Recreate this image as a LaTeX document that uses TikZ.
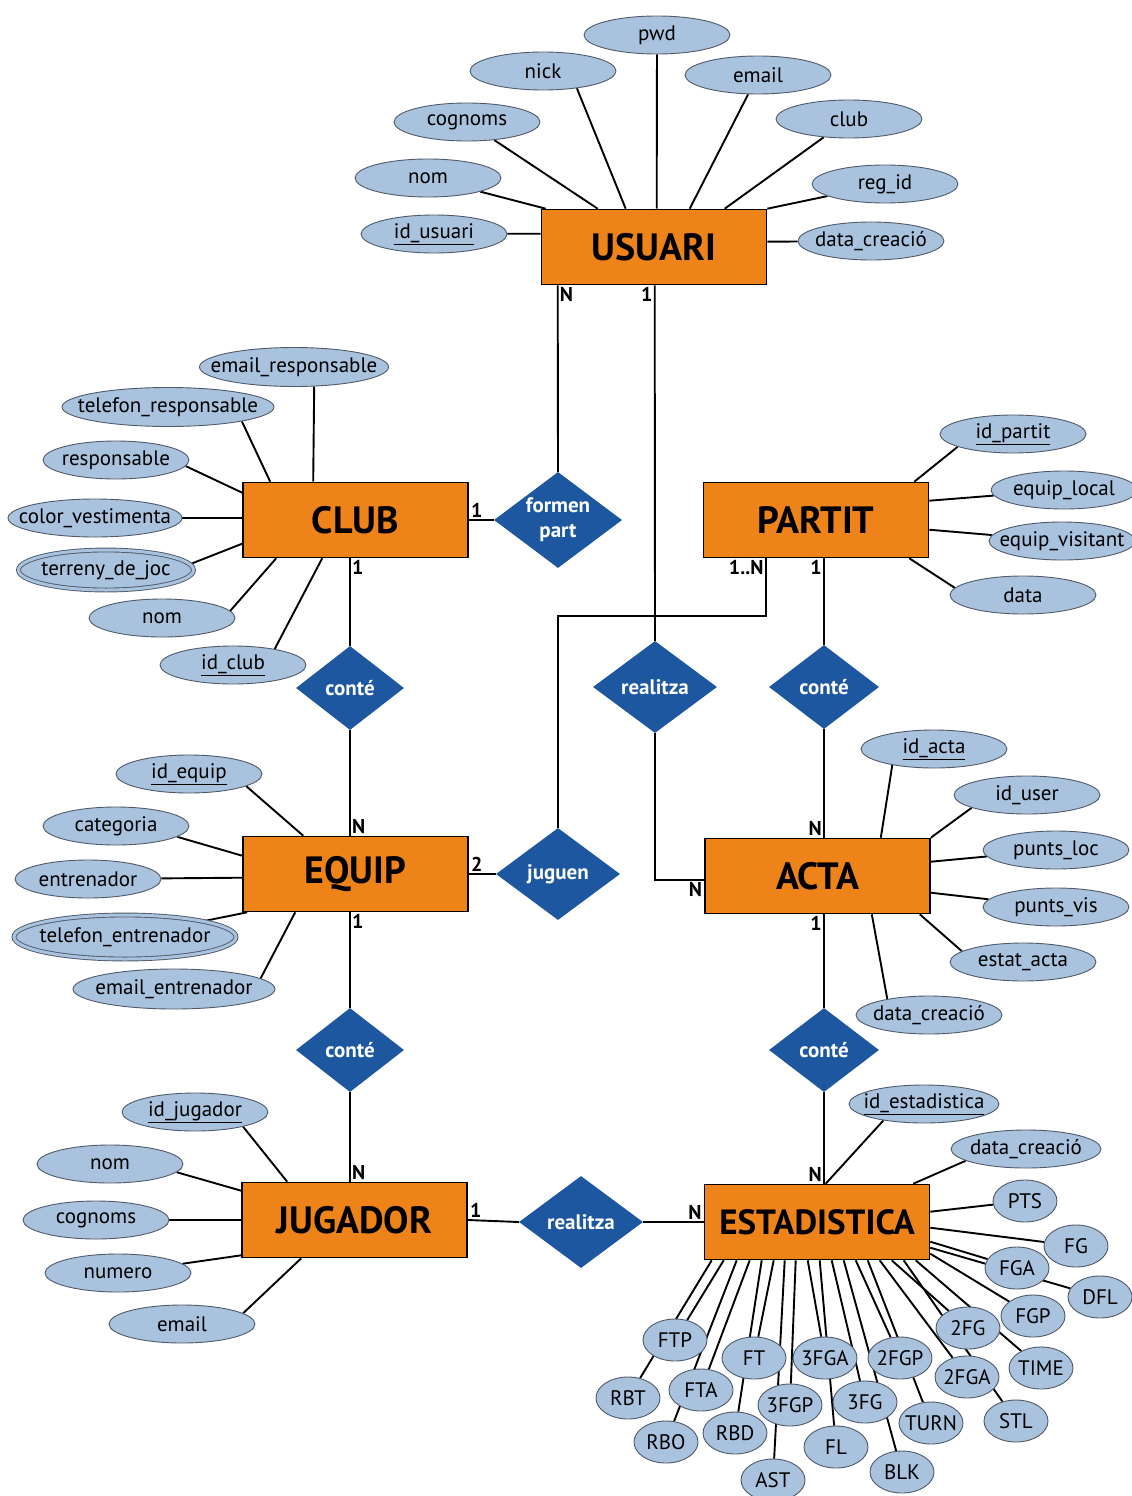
\documentclass[tikz,border=0pt]{standalone}
\usepackage{fontspec}
\setmainfont{PT Sans}
\usepackage{xcolor}
\usepackage{tikz}
\usetikzlibrary{shapes, shapes.geometric, calc, backgrounds}

\definecolor{entorange}{RGB}{238,131,25}
\definecolor{relblue}{RGB}{28,87,160}
\definecolor{attrblue}{RGB}{169,194,222}
\definecolor{attredge}{RGB}{80,90,105}

\tikzstyle{entitat} = [rectangle, draw, line width=1.6pt, fill=entorange,
    minimum width=225pt, minimum height=75pt, inner sep=0pt,
    font=\fontsize{38}{42}\selectfont\bfseries]
\tikzstyle{relacio} = [diamond, fill=relblue, text=white, inner sep=0pt,
    aspect=1.3, align=center, font=\fontsize{21}{25}\selectfont\bfseries]
\tikzstyle{atribut} = [ellipse, draw=attredge, line width=0.9pt, fill=attrblue,
    minimum width=146pt, minimum height=38pt, inner sep=0pt,
    font=\fontsize{21}{24}\selectfont,
    execute at begin node={\hbox to 0pt\bgroup\hss},
    execute at end node={\hss\egroup}]
\tikzstyle{multi} = [atribut, double=attrblue, double distance=3pt]
\tikzstyle{stat} = [atribut, minimum width=64pt, minimum height=42pt]
\tikzstyle{card} = [inner sep=2pt, font=\fontsize{20}{22}\selectfont\bfseries]
\tikzstyle{line} = [draw, line width=1.9pt]

\begin{document}
\begin{tikzpicture}[x=1pt, y=-1pt]
    \useasboundingbox (0,0) rectangle (1132,1496);
    % Entitats
    \node [entitat] (usuari) at (654,247) {USUARI};
    \node [entitat] (club) at (355.5,520) {CLUB};
    \node [entitat] (partit) at (816,520) {PARTIT};
    \node [entitat] (equip) at (355.5,874) {EQUIP};
    \node [entitat] (acta) at (817.5,876) {ACTA};
    \node [entitat] (jugador) at (354.5,1220) {JUGADOR};
    \node [entitat, font=\fontsize{35}{40}\selectfont\bfseries] (estad) at (817,1222) {ESTADISTICA};
    % Relacions
    \node [relacio, minimum width=128pt, minimum height=96pt] (formen) at (558,520) {formen\\part};
    \node [relacio, minimum width=108pt, minimum height=84pt] (conteclub) at (350,688) {conté};
    \node [relacio, minimum width=124pt, minimum height=92pt] (realitza) at (655,687) {realitza};
    \node [relacio, minimum width=110pt, minimum height=84pt] (contepartit) at (824,687) {conté};
    \node [relacio, minimum width=124pt, minimum height=92pt] (juguen) at (558,874) {juguen};
    \node [relacio, minimum width=108pt, minimum height=84pt] (conteequip) at (350,1050) {conté};
    \node [relacio, minimum width=110pt, minimum height=84pt] (conteacta) at (824,1050) {conté};
    \node [relacio, minimum width=124pt, minimum height=92pt] (realitzajug) at (581,1222) {realitza};
    % Cardinalitats
    \node [card, anchor=north west] (kUsuN) at ([xshift=17pt]usuari.south west) {N};
    \node [card, anchor=north east] (kUsu1) at ([xshift=114pt]usuari.south west) {1};
    \node [card, anchor=south west] (kClub1) at (club.east) {1};
    \node [card, anchor=north west] (kClubC) at (club.south -| conteclub) {1};
    \node [card, anchor=south west] (kEquipN) at (equip.north -| conteclub) {N};
    \node [card, anchor=north east] (kPartitN) at ([xshift=63pt]partit.south west) {1..N};
    \node [card, anchor=north east] (kPartit1) at (partit.south -| contepartit) {1};
    \node [card, anchor=south east] (kActaN) at (acta.north -| contepartit) {N};
    \node [card, anchor=north east] (kActaR) at ([yshift=-4pt]acta.west) {N};
    \node [card, anchor=south west] (kEquip2) at (equip.east) {2};
    \node [card, anchor=north west] (kEquip1) at (equip.south -| conteequip) {1};
    \node [card, anchor=south west] (kJugN) at (jugador.north -| conteequip) {N};
    \node [card, anchor=north east] (kActa1) at (acta.south -| conteacta) {1};
    \node [card, anchor=south east] (kEstN) at (estad.north -| conteacta) {N};
    \node [card, anchor=south west] (kJug1) at (jugador.east) {1};
    \node [card, anchor=south east] (kEstR) at (estad.west) {N};
    % Atributs USUARI
    \node [atribut] (u-pwd) at (657,35) {pwd};
    \node [atribut] (u-nick) at (543,71) {nick};
    \node [atribut] (u-email) at (758,75) {email};
    \node [atribut] (u-cognoms) at (467,122) {cognoms};
    \node [atribut] (u-club) at (849,119) {club};
    \node [atribut] (u-nom) at (428,178) {nom};
    \node [atribut] (u-regid) at (885,184) {reg\_id};
    \node [atribut] (u-id) at (434,234) {\underline{id\_usuari}};
    \node [atribut] (u-data) at (871,241) {data\_creació};
    % Atributs CLUB
    \node [atribut, minimum width=189pt, minimum height=39pt] (c-emailresp) at (294,367) {email\_responsable};
    \node [atribut, minimum width=212pt, minimum height=39pt] (c-telresp) at (168,407) {telefon\_responsable};
    \node [atribut] (c-resp) at (116,460) {responsable};
    \node [atribut, minimum width=174pt] (c-color) at (95,518) {color\_vestimenta};
    \node [multi, minimum width=175pt, minimum height=40pt] (c-terreny) at (106,570) {terreny\_de\_joc};
    \node [atribut] (c-nom) at (162,618) {nom};
    \node [atribut] (c-id) at (233,665) {\underline{id\_club}};
    % Atributs PARTIT
    \node [atribut] (p-id) at (1013,434) {\underline{id\_partit}};
    \node [atribut] (p-local) at (1064,490) {equip\_local};
    \node [atribut] (p-visit) at (1062,541) {equip\_visitant};
    \node [atribut] (p-data) at (1023,595) {data};
    % Atributs ACTA
    \node [atribut] (a-id) at (934,749) {\underline{id\_acta}};
    \node [atribut] (a-user) at (1027,795) {id\_user};
    \node [atribut] (a-loc) at (1056,850) {punts\_loc};
    \node [atribut] (a-vis) at (1056,907) {punts\_vis};
    \node [atribut] (a-estat) at (1023,962) {estat\_acta};
    \node [atribut] (a-data) at (929,1015) {data\_creació};
    % Atributs EQUIP
    \node [atribut] (e-id) at (189,774) {\underline{id\_equip}};
    \node [atribut] (e-cat) at (116,826) {categoria};
    \node [atribut] (e-entr) at (88,879) {entrenador};
    \node [multi, minimum width=222pt, minimum height=44pt] (e-tel) at (125,937) {telefon\_entrenador};
    \node [atribut, minimum width=202pt, minimum height=40pt] (e-email) at (174,989) {email\_entrenador};
    % Atributs JUGADOR
    \node [atribut] (j-id) at (195,1112) {\underline{id\_jugador}};
    \node [atribut] (j-nom) at (110,1164) {nom};
    \node [atribut] (j-cognoms) at (96,1220) {cognoms};
    \node [atribut] (j-num) at (118,1273) {numero};
    \node [atribut] (j-email) at (182,1324) {email};
    % Atributs ESTADISTICA
    \node [atribut, minimum width=150pt] (s-id) at (924,1104) {\underline{id\_estadistica}};
    \node [atribut, minimum width=150pt] (s-data) at (1026,1149) {data\_creació};
    \node [stat] (s-PTS) at (1025,1201) {PTS};
    \node [stat] (s-FG) at (1076,1246) {FG};
    \node [stat] (s-FGA) at (1017,1268) {FGA};
    \node [stat] (s-DFL) at (1100,1297) {DFL};
    \node [stat] (s-FGP) at (1033,1316) {FGP};
    \node [stat] (s-2FG) at (968,1328) {2FG};
    \node [stat] (s-TIME) at (1041,1368) {TIME};
    \node [stat] (s-2FGA) at (967,1377) {2FGA};
    \node [stat] (s-STL) at (1016,1421) {STL};
    \node [stat] (s-2FGP) at (900,1358) {2FGP};
    \node [stat] (s-TURN) at (931,1423) {TURN};
    \node [stat] (s-3FG) at (865,1402) {3FG};
    \node [stat] (s-BLK) at (902,1472) {BLK};
    \node [stat] (s-3FGA) at (825,1358) {3FGA};
    \node [stat] (s-FL) at (836,1447) {FL};
    \node [stat] (s-3FGP) at (790,1405) {3FGP};
    \node [stat] (s-AST) at (773,1480) {AST};
    \node [stat] (s-FT) at (754,1358) {FT};
    \node [stat] (s-RBD) at (735,1433) {RBD};
    \node [stat] (s-FTA) at (701,1390) {FTA};
    \node [stat] (s-RBO) at (666,1442) {RBO};
    \node [stat] (s-FTP) at (675,1340) {FTP};
    \node [stat] (s-RBT) at (628,1398) {RBT};

    \begin{scope}[on background layer]
    % Edges relacions
    \path [line] ([xshift=17pt]usuari.south west) -- (formen.north);
    \path [line] ([xshift=114pt]usuari.south west) -- (realitza.north);
    \path [line] (club.east) -- (formen.west);
    \path [line] (club.south -| conteclub) -- (conteclub.north);
    \path [line] (conteclub.south) -- (equip.north -| conteclub);
    \path [line] ([xshift=63pt]partit.south west) -- ++(0,58) -| (juguen.north);
    \path [line] (partit.south -| contepartit) -- (contepartit.north);
    \path [line] (contepartit.south) -- (acta.north -| contepartit);
    \path [line] (realitza.south) |- ([yshift=-4pt]acta.west);
    \path [line] (equip.east) -- (juguen.west);
    \path [line] (equip.south -| conteequip) -- (conteequip.north);
    \path [line] (conteequip.south) -- (jugador.north -| conteequip);
    \path [line] (acta.south -| conteacta) -- (conteacta.north);
    \path [line] (conteacta.south) -- (estad.north -| conteacta);
    \path [line] (jugador.east) -- (realitzajug.west);
    \path [line] (realitzajug.east) -- (estad.west);
    % Edges USUARI
    \path [line] (u-pwd) -- ([xshift=116pt]usuari.north west);
    \path [line] (u-nick.-27) -- ([xshift=85pt]usuari.north west);
    \path [line] (u-email) -- ([xshift=149pt]usuari.north west);
    \path [line] (u-cognoms) -- ([xshift=57pt]usuari.north west);
    \path [line] (u-club) -- ([xshift=184pt]usuari.north west);
    \path [line] (u-nom) -- ([xshift=5pt]usuari.north west);
    \path [line] (u-regid) -- (usuari.north east);
    \path [line] (u-id) -- ([yshift=-25pt]usuari.north west);
    \path [line] (u-data) -- ([yshift=-33pt]usuari.north east);
    % Edges CLUB
    \path [line] (c-emailresp.-44) -- ([xshift=71pt]club.north west);
    \path [line] (c-telresp.-11) -- ([xshift=28pt]club.north west);
    \path [line] (c-resp.-5) -- ([yshift=-11pt]club.north west);
    \path [line] (c-color) -- (club.west |- c-color);
    \path [line] (c-terreny.4) -- ([yshift=-62pt]club.north west);
    \path [line] (c-nom.6) -- ([xshift=34pt]club.south west);
    \path [line] (c-id.21) -- ([xshift=80pt]club.south west);
    % Edges PARTIT
    \path [line] (p-id.-167) -- ([xshift=-15pt]partit.north east);
    \path [line] (p-local) -- ([yshift=-19pt]partit.north east);
    \path [line] (p-visit) -- ([yshift=-48pt]partit.north east);
    \path [line] (p-data.174) -- ([xshift=-20pt]partit.south east);
    % Edges ACTA
    \path [line] (a-id.-159) -- ([xshift=-50pt]acta.north east);
    \path [line] (a-user.-167) -- (acta.north east);
    \path [line] (a-loc) -- ([yshift=-24pt]acta.north east);
    \path [line] (a-vis) -- ([yshift=-55pt]acta.north east);
    \path [line] (a-estat.170) -- ([xshift=-11pt]acta.south east);
    \path [line] (a-data.159) -- ([xshift=-59pt]acta.south east);
    % Edges EQUIP
    \path [line] (e-id.-12) -- ([xshift=61pt]equip.north west);
    \path [line] (e-cat.-10) -- ([yshift=-20pt]equip.north west);
    \path [line] (e-entr) -- ([yshift=-42pt]equip.north west);
    \path [line] (e-tel) -- ([xshift=5pt]equip.south west);
    \path [line] (e-email.7) -- ([xshift=53pt]equip.south west);
    % Edges JUGADOR
    \path [line] (j-id.-17) -- ([xshift=46pt]jugador.north west);
    \path [line] (j-nom.-7) -- ([yshift=-9pt]jugador.north west);
    \path [line] (j-cognoms) -- (jugador.west);
    \path [line] (j-num) -- ([yshift=3pt]jugador.south west);
    \path [line] (j-email.10) -- ([xshift=60pt]jugador.south west);
    % Edges ESTADISTICA
    \path [line] (s-id.-158) -- ([xshift=122pt]estad.north west);
    \path [line] (s-data.-169) -- ([xshift=-17pt]estad.north east);
    \path [line] (s-PTS) -- ([yshift=-28pt]estad.north east);
    \path [line] (s-FG) -- ([yshift=-44pt]estad.north east);
    \path [line] (s-FGA) -- ([yshift=-58pt]estad.north east);
    \path [line] (s-DFL) -- ([yshift=-64pt]estad.north east);
    \path [line] (s-FGP) -- ([yshift=-70pt]estad.north east);
    \path [line] (s-TIME) -- ([xshift=212pt]estad.south west);
    \path [line] (s-STL) -- ([xshift=200pt]estad.south west);
    \path [line] (s-2FG) -- ([xshift=188pt]estad.south west);
    \path [line] (s-2FGA) -- ([xshift=176pt]estad.south west);
    \path [line] (s-TURN) -- ([xshift=164pt]estad.south west);
    \path [line] (s-2FGP) -- ([xshift=152pt]estad.south west);
    \path [line] (s-BLK) -- ([xshift=140pt]estad.south west);
    \path [line] (s-3FG) -- ([xshift=128pt]estad.south west);
    \path [line] (s-FL) -- ([xshift=116pt]estad.south west);
    \path [line] (s-3FGA) -- ([xshift=104pt]estad.south west);
    \path [line] (s-3FGP) -- ([xshift=92pt]estad.south west);
    \path [line] (s-AST) -- ([xshift=81pt]estad.south west);
    \path [line] (s-FT) -- ([xshift=70pt]estad.south west);
    \path [line] (s-RBD) -- ([xshift=58pt]estad.south west);
    \path [line] (s-FTA) -- ([xshift=46pt]estad.south west);
    \path [line] (s-RBO) -- ([xshift=33pt]estad.south west);
    \path [line] (s-FTP) -- ([xshift=20pt]estad.south west);
    \path [line] (s-RBT) -- ([xshift=8pt]estad.south west);
    \end{scope}
\end{tikzpicture}
\end{document}
